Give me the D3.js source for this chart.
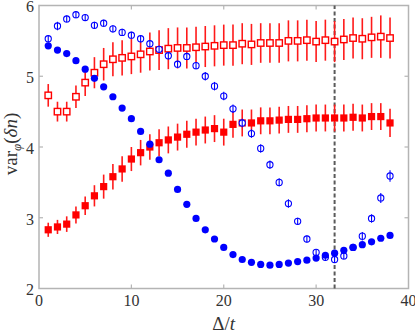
<!DOCTYPE html>
<html>
<head>
<meta charset="utf-8">
<script src="https://cdn.jsdelivr.net/npm/d3@7"></script>
<style>
  body { margin: 0; background: #fff; }
  svg text { font-family: "Liberation Serif", "DejaVu Serif", serif; }
</style>
</head>
<body>
<div id="chart"></div>
<script>
// Delta/t values shared by all four series
const deltas = [1, 2, 3, 4, 5, 6, 7, 8, 9, 10, 11, 12, 13, 14, 15, 16, 17, 18, 19,
  20, 21, 22, 23, 24, 25, 26, 27, 28, 29, 30, 31, 32, 33, 34, 35, 36, 37, 38];

// open blue circles
const openBlue = [5.53, 5.71, 5.81, 5.87, 5.83, 5.72, 5.75, 5.67, 5.62, 5.58, 5.53, 5.46, 5.38,
  5.29, 5.17, 5.28, 5.15, 5.00, 4.86, 4.72, 4.54, 4.34, 4.19, 3.98, 3.75, 3.50, 3.20, 2.95,
  2.70, 2.51, 2.44, 2.41, 2.46, 2.58, 2.74, 2.99, 3.28, 3.59];
const openBlueErr = [0.05, 0.06, 0.05, 0.05, 0.05, 0.05, 0.05, 0.05, 0.05, 0.05, 0.05, 0.05, 0.05,
  0.05, 0.05, 0.05, 0.05, 0.06, 0.06, 0.06, 0.06, 0.06, 0.06, 0.06, 0.06, 0.06, 0.06, 0.05,
  0.05, 0.05, 0.05, 0.05, 0.05, 0.05, 0.06, 0.06, 0.07, 0.08];

// filled blue circles
const filledBlue = [5.43, 5.37, 5.32, 5.22, 5.10, 4.97, 4.85, 4.71, 4.55, 4.40, 4.22, 4.04, 3.82,
  3.63, 3.40, 3.19, 2.99, 2.83, 2.70, 2.58, 2.48, 2.41, 2.37, 2.34, 2.33, 2.34, 2.36, 2.38,
  2.40, 2.43, 2.47, 2.50, 2.54, 2.58, 2.62, 2.66, 2.71, 2.75];

// open red squares
const openRed = [4.73, 4.50, 4.50, 4.71, 4.91, 5.05, 5.17, 5.24, 5.26, 5.28, 5.31, 5.35, 5.37,
  5.39, 5.40, 5.40, 5.41, 5.42, 5.43, 5.44, 5.44, 5.46, 5.45, 5.47, 5.47, 5.47, 5.50, 5.50,
  5.51, 5.49, 5.51, 5.49, 5.52, 5.54, 5.53, 5.55, 5.56, 5.54];
const openRedErr = [0.16, 0.14, 0.14, 0.16, 0.19, 0.22, 0.23, 0.24, 0.25, 0.25, 0.26, 0.27, 0.28,
  0.29, 0.29, 0.29, 0.29, 0.29, 0.29, 0.29, 0.29, 0.29, 0.29, 0.28, 0.28, 0.28, 0.29, 0.29,
  0.29, 0.29, 0.29, 0.29, 0.29, 0.29, 0.29, 0.29, 0.30, 0.29];

// filled red squares
const filledRed = [2.83, 2.87, 2.91, 3.04, 3.17, 3.31, 3.44, 3.58, 3.69, 3.83, 3.92, 4.00, 4.06,
  4.10, 4.14, 4.18, 4.21, 4.24, 4.26, 4.21, 4.32, 4.34, 4.34, 4.37, 4.37, 4.38, 4.39, 4.39,
  4.40, 4.41, 4.41, 4.41, 4.41, 4.42, 4.41, 4.43, 4.43, 4.34];
const filledRedErr = [0.10, 0.10, 0.11, 0.12, 0.13, 0.15, 0.17, 0.18, 0.18, 0.17, 0.18, 0.18, 0.19,
  0.19, 0.19, 0.19, 0.19, 0.19, 0.19, 0.19, 0.19, 0.19, 0.19, 0.19, 0.19, 0.19, 0.19, 0.19,
  0.19, 0.19, 0.19, 0.19, 0.19, 0.19, 0.19, 0.19, 0.19, 0.20];

const xTicks = [0, 10, 20, 30, 40];
const yTicks = [2, 3, 4, 5, 6];
const markerX = 32; // dashed vertical line

const width = 415;
const height = 335;
const margin = { top: 5.5, right: 6.5, bottom: 46.5, left: 39 };
const plotW = width - margin.left - margin.right;
const plotH = height - margin.top - margin.bottom;

let svg = d3.select("#chart")
  .append("svg")
  .attr("width", width)
  .attr("height", height);

let x = d3.scaleLinear().domain([0, 40]).range([margin.left, margin.left + plotW]);
let y = d3.scaleLinear().domain([2, 6]).range([margin.top + plotH, margin.top]);

const frameColor = "#b4b4b4";
const labelColor = "#333";

// frame
svg.append("rect")
  .attr("x", x(0))
  .attr("y", y(6))
  .attr("width", x(40) - x(0))
  .attr("height", y(2) - y(6))
  .attr("fill", "none")
  .attr("stroke", frameColor)
  .attr("stroke-width", 1.5);

// inward ticks on all four sides
let tickLen = 4;
svg.append("g").selectAll("line")
  .data(xTicks.slice(1, -1))
  .enter().append("line")
  .attr("x1", d => x(d)).attr("x2", d => x(d))
  .attr("y1", y(2)).attr("y2", y(2) - tickLen)
  .attr("stroke", frameColor).attr("stroke-width", 1.2);
svg.append("g").selectAll("line")
  .data(xTicks.slice(1, -1))
  .enter().append("line")
  .attr("x1", d => x(d)).attr("x2", d => x(d))
  .attr("y1", y(6)).attr("y2", y(6) + tickLen)
  .attr("stroke", frameColor).attr("stroke-width", 1.2);
svg.append("g").selectAll("line")
  .data(yTicks.slice(1, -1))
  .enter().append("line")
  .attr("x1", x(0)).attr("x2", x(0) + tickLen)
  .attr("y1", d => y(d)).attr("y2", d => y(d))
  .attr("stroke", frameColor).attr("stroke-width", 1.2);
svg.append("g").selectAll("line")
  .data(yTicks.slice(1, -1))
  .enter().append("line")
  .attr("x1", x(40)).attr("x2", x(40) - tickLen)
  .attr("y1", d => y(d)).attr("y2", d => y(d))
  .attr("stroke", frameColor).attr("stroke-width", 1.2);

// tick labels
svg.append("g").selectAll("text")
  .data(xTicks)
  .enter().append("text")
  .attr("x", d => x(d))
  .attr("y", y(2) + 17)
  .attr("text-anchor", "middle")
  .attr("font-size", 16)
  .attr("fill", labelColor)
  .text(d => d);

svg.append("g").selectAll("text")
  .data(yTicks)
  .enter().append("text")
  .attr("x", x(0) - 5)
  .attr("y", d => y(d) + 1)
  .attr("dy", "0.36em")
  .attr("text-anchor", "end")
  .attr("font-size", 16)
  .attr("fill", labelColor)
  .text(d => d);

// axis titles
let xTitle = svg.append("text")
  .attr("x", x(20))
  .attr("y", 330)
  .attr("text-anchor", "middle")
  .attr("font-size", 19)
  .attr("fill", labelColor);
xTitle.append("tspan").text("Δ/");
xTitle.append("tspan").attr("font-style", "italic").text("t");

let yTitle = svg.append("text")
  .attr("transform", `translate(17, ${y(4) - 3}) rotate(-90)`)
  .attr("text-anchor", "middle")
  .attr("font-size", 19)
  .attr("fill", labelColor);
yTitle.append("tspan").text("var");
yTitle.append("tspan").attr("font-style", "italic").attr("font-size", 13).attr("dy", 4).text("φ");
yTitle.append("tspan").attr("dy", -4).text("(");
yTitle.append("tspan").attr("font-style", "italic").text("δn");
yTitle.append("tspan").text(")");

// dashed reference line
svg.append("line")
  .attr("x1", x(markerX)).attr("x2", x(markerX))
  .attr("y1", y(2)).attr("y2", y(6))
  .attr("stroke", "#5a5a5a")
  .attr("stroke-width", 2)
  .attr("stroke-dasharray", "4,2.5");

// helper: build rows for one series
function rows(values, errs) {
  return deltas.map((d, i) => ({ x: d, v: values[i], e: errs ? errs[i] : 0 }));
}

function errorBars(data, color, w) {
  svg.append("g").selectAll("line")
    .data(data)
    .enter().append("line")
    .attr("x1", d => x(d.x)).attr("x2", d => x(d.x))
    .attr("y1", d => y(d.v - d.e)).attr("y2", d => y(d.v + d.e))
    .attr("stroke", color)
    .attr("stroke-width", w);
}

let openRedData = rows(openRed, openRedErr);
let filledRedData = rows(filledRed, filledRedErr);
let openBlueData = rows(openBlue, openBlueErr);
let filledBlueData = rows(filledBlue);

// open red squares
errorBars(openRedData, "#ff1a1a", 1.6);
let sq = 6.4;
svg.append("g").selectAll("rect")
  .data(openRedData)
  .enter().append("rect")
  .attr("x", d => x(d.x) - sq / 2)
  .attr("y", d => y(d.v) - sq / 2)
  .attr("width", sq).attr("height", sq)
  .attr("fill", "white")
  .attr("stroke", "#ff0000")
  .attr("stroke-width", 1.4);

// filled red squares
errorBars(filledRedData, "#ff1a1a", 1.6);
let fsq = 7.2;
svg.append("g").selectAll("rect")
  .data(filledRedData)
  .enter().append("rect")
  .attr("x", d => x(d.x) - fsq / 2)
  .attr("y", d => y(d.v) - fsq / 2)
  .attr("width", fsq).attr("height", fsq)
  .attr("fill", "#ff0000");

// open blue circles (error bar drawn through the marker)
svg.append("g").selectAll("circle")
  .data(openBlueData)
  .enter().append("circle")
  .attr("cx", d => x(d.x))
  .attr("cy", d => y(d.v))
  .attr("r", 3.1)
  .attr("fill", "white")
  .attr("stroke", "#0000ff")
  .attr("stroke-width", 1.1);
errorBars(openBlueData, "#0000ff", 1.1);

// filled blue circles
svg.append("g").selectAll("circle")
  .data(filledBlueData)
  .enter().append("circle")
  .attr("cx", d => x(d.x))
  .attr("cy", d => y(d.v))
  .attr("r", 3.6)
  .attr("fill", "#0000ff");
</script>
</body>
</html>
